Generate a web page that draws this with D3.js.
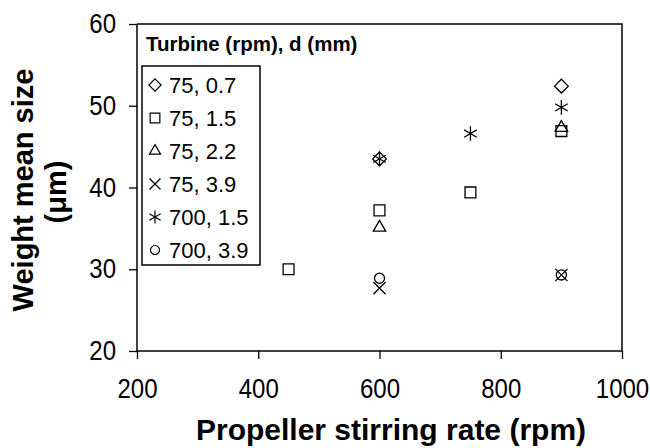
<!DOCTYPE html>
<html>
<head>
<meta charset="utf-8">
<script src="https://cdn.jsdelivr.net/npm/d3@7"></script>
<style>
  body { margin: 0; background: #fff; }
  svg { display: block; font-family: 'Liberation Sans', Arial, sans-serif; }
</style>
</head>
<body>
<script>
// data: [propeller rpm, weight mean size um]
const seriesNames = ['75, 0.7', '75, 1.5', '75, 2.2', '75, 3.9', '700, 1.5', '700, 3.9']
const s75_07 = [[600, 43.5], [900, 52.4]]
const s75_15 = [[450, 30.0], [600, 37.2], [750, 39.4], [900, 46.9]]
const s75_22 = [[600, 35.1], [900, 47.3]]
const s75_39 = [[600, 27.7], [900, 29.3]]
const s700_15 = [[600, 43.5], [750, 46.6], [900, 49.8]]
const s700_39 = [[600, 28.9], [900, 29.3]]
const xTicks = [200, 400, 600, 800, 1000]
const yTicks = [20, 30, 40, 50, 60]

const seriesData = [s75_07, s75_15, s75_22, s75_39, s700_15, s700_39]
const symbols = [d3.symbolDiamond2, d3.symbolSquare2, d3.symbolTriangle2, d3.symbolTimes, d3.symbolAsterisk, d3.symbolCircle]
const symbolSizes = [120, 150, 110, 100, 150, 80]

const W = 650, H = 448
const margin = { top: 24, right: 28, bottom: 97, left: 137 }

const svg = d3.select('body').append('svg')
  .attr('width', W)
  .attr('height', H)

const x = d3.scaleLinear().domain([200, 1000]).range([margin.left, W - margin.right])
const y = d3.scaleLinear().domain([20, 60]).range([H - margin.bottom, margin.top])

// plot frame (top + right)
svg.append('path')
  .attr('d', `M${x(200)},${y(60)}H${x(1000)}V${y(20)}`)
  .attr('fill', 'none')
  .attr('stroke', '#000')
  .attr('stroke-width', 1.5)

const xAxis = svg.append('g')
  .attr('transform', `translate(0,${y(20)})`)
  .call(d3.axisBottom(x).tickValues(xTicks).tickFormat(d3.format('d')).tickSize(8).tickPadding(20))

const yAxis = svg.append('g')
  .attr('transform', `translate(${x(200)},0)`)
  .call(d3.axisLeft(y).tickValues(yTicks).tickFormat(d3.format('d')).tickSize(8).tickPadding(15))

// tick labels in the figure are a little narrow for their height
const squeeze = 0.89
;[xAxis, yAxis].forEach(ax => {
  ax.selectAll('.tick line').attr('stroke-width', 1.3)
  ax.selectAll('.tick text')
    .attr('font-family', "'Liberation Sans', Arial, sans-serif")
    .attr('font-size', 27)
    .attr('fill', '#000')
    .attr('transform', `scale(${squeeze},1)`)
})
xAxis.select('.domain').attr('stroke-width', 1.5).attr('d', `M${x(200)},0H${x(1000)}`)
yAxis.select('.domain').attr('stroke-width', 1.5).attr('d', `M0,${y(20)}V${y(60)}`)
yAxis.selectAll('.tick text').attr('x', -23.5)

// axis titles
svg.append('text')
  .attr('x', 391)
  .attr('y', 440)
  .attr('text-anchor', 'middle')
  .attr('font-size', 30)
  .attr('font-weight', 'bold')
  .text('Propeller stirring rate (rpm)')

const yTitle = svg.append('text')
  .attr('transform', 'translate(33,190) rotate(-90)')
  .attr('text-anchor', 'middle')
  .attr('font-size', 29)
  .attr('font-weight', 'bold')
yTitle.append('tspan').attr('x', 0).attr('y', 0).text('Weight mean size')
yTitle.append('tspan').attr('x', -2).attr('y', 33).text('(\u03bcm)')

// points
const markers = svg.append('g')
seriesData.forEach((pts, i) => {
  markers.selectAll(null)
    .data(pts)
    .join('path')
    .attr('transform', d => `translate(${x(d[0])},${y(d[1])})`)
    .attr('d', d3.symbol().type(symbols[i]).size(symbolSizes[i]))
    .attr('fill', 'none')
    .attr('stroke', '#000')
    .attr('stroke-width', 1.3)
})

// legend
svg.append('text')
  .attr('x', 146)
  .attr('y', 51)
  .attr('font-size', 20.5)
  .attr('font-weight', 'bold')
  .text('Turbine (rpm), d (mm)')

svg.append('rect')
  .attr('x', 142)
  .attr('y', 66)
  .attr('width', 118)
  .attr('height', 199)
  .attr('fill', '#fff')
  .attr('stroke', '#000')
  .attr('stroke-width', 1.5)

const legendRows = svg.append('g')
  .selectAll('g')
  .data(seriesNames)
  .join('g')
  .attr('transform', (d, i) => `translate(155,${85 + i * 33})`)

legendRows.append('path')
  .attr('d', (d, i) => d3.symbol().type(symbols[i]).size(symbolSizes[i] * 0.8)())
  .attr('fill', 'none')
  .attr('stroke', '#000')
  .attr('stroke-width', 1.2)

legendRows.append('text')
  .attr('x', 14)
  .attr('y', 8)
  .attr('font-size', 22)
  .text(d => d)
</script>
</body>
</html>
